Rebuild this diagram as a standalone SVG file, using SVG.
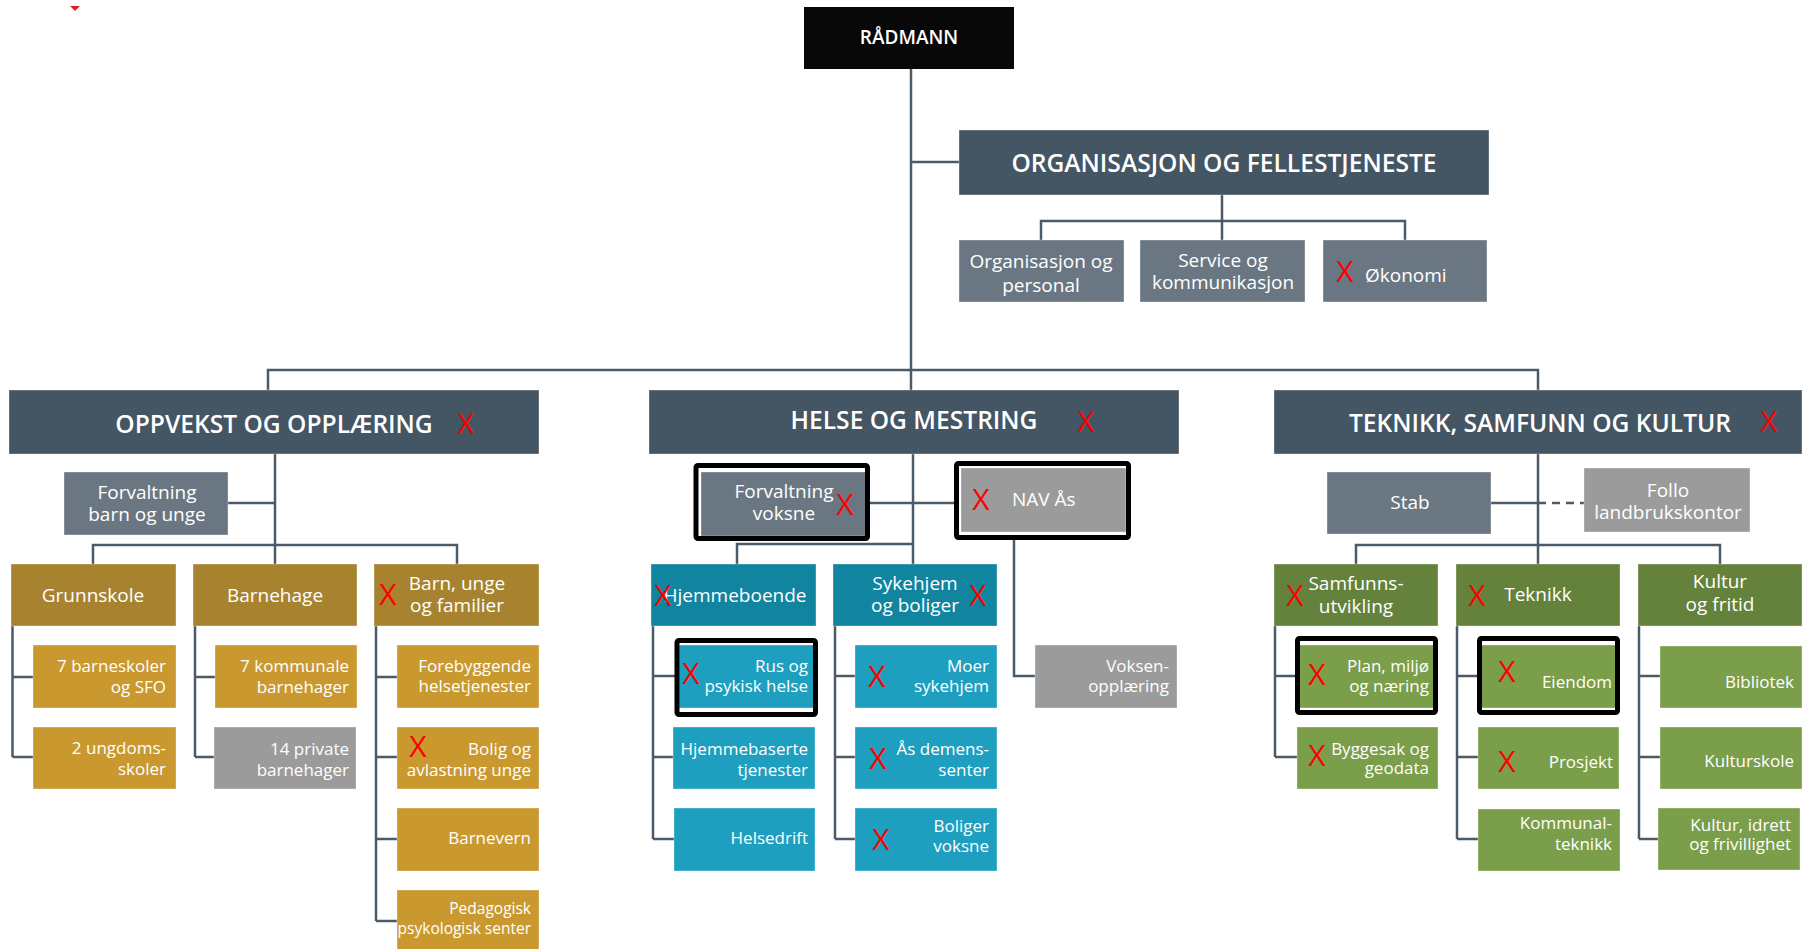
<svg xmlns="http://www.w3.org/2000/svg" width="1808" height="949" viewBox="0 0 1808 949">
<style>
text{font-family:"Open Sans","Noto Sans","DejaVu Sans",sans-serif;fill:#fff}
.bx{stroke:#fff;stroke-opacity:.35;stroke-width:1}
.hdr{fill:#445563}
.g1{fill:#6A7782}
.g2{fill:#9B9B9B}
.o2{fill:#A8832F}
.o3{fill:#C9992F}
.h2{fill:#11849F}
.h3{fill:#1E9FBF}
.t2{fill:#64823B}
.t3{fill:#7A9E4A}
.frame{fill:none;stroke:#000;stroke-width:5}
.ht{font-size:24.6px;font-weight:600;text-anchor:middle}
.m{font-size:19px;text-anchor:middle}
.r{font-size:17px;text-anchor:end}
.x{font-size:30px;fill:#f00;text-anchor:middle}
.cn{fill:none;stroke:#4B5A67;stroke-width:2.5}
</style>

<polygon points="70,6 80,6 75,11" fill="#e02020"/>

<g id="connectors" class="cn">
<path d="M911,69 V390"/>
<path d="M911,162 H959"/>
<path d="M1222,195 V240 M1041,240 V221 H1405 V240"/>
<path d="M268,390 V370 H1538 V390"/>
<path d="M275,454 V564 M228,503 H275 M93,564 V545 H457 V564"/>
<path d="M12.5,626 V757 M12.5,677 H33 M12.5,757 H33"/>
<path d="M195,626 V757 M195,677 H215 M195,757 H215"/>
<path d="M376,626 V921 M376,677 H397 M376,757 H397 M376,839 H397 M376,921 H397"/>
<path d="M913,454 V564 M870,503 H956 M737,564 V544 H913"/>
<path d="M1014,540 V676 H1035"/>
<path d="M653,626 V839 M653,676 H675 M653,757 H673 M653,839 H674"/>
<path d="M835,626 V839 M835,676 H855 M835,757 H855 M835,839 H855"/>
<path d="M1538,454 V564 M1491,503 H1538 M1356,564 V545 H1720 V564"/>
<path d="M1538,503 H1584" stroke-dasharray="8,6"/>
<path d="M1275,626 V757 M1275,676 H1297 M1275,757 H1297"/>
<path d="M1457,626 V839 M1457,676 H1478 M1457,757 H1478 M1457,839 H1478"/>
<path d="M1639,626 V839 M1639,676 H1660 M1639,757 H1660 M1639,839 H1658"/>
</g>

<g id="radmann"><rect x="804" y="7" width="210" height="62" fill="#080808"/><text x="909" y="44" style="font-size:19px;font-weight:600;text-anchor:middle">RÅDMANN</text></g>

<g id="org"><rect class="bx hdr" x="959" y="130" width="530" height="65"/><text class="ht" x="1224" y="172">ORGANISASJON OG FELLESTJENESTE</text></g>
<g id="org-personal"><rect class="bx g1" x="959" y="240" width="165" height="62"/><text class="m" x="1041" y="268">Organisasjon og</text><text class="m" x="1041" y="292">personal</text></g>
<g id="org-service"><rect class="bx g1" x="1140" y="240" width="165" height="62"/><text class="m" x="1223" y="267">Service og</text><text class="m" x="1223" y="289">kommunikasjon</text></g>
<g id="org-okonomi"><rect class="bx g1" x="1323" y="240" width="164" height="62"/><text class="x" x="1345" y="282">X</text><text style="font-size:19px" x="1365" y="282">Økonomi</text></g>

<g id="oppvekst"><rect class="bx hdr" x="9" y="390" width="530" height="64"/><text class="ht" x="274" y="433">OPPVEKST OG OPPLÆRING</text><text class="x" x="466" y="434">X</text></g>
<g id="forv-barn"><rect class="bx g1" x="64" y="472" width="164" height="63"/><text class="m" x="147" y="499">Forvaltning</text><text class="m" x="147" y="521">barn og unge</text></g>
<g id="grunnskole"><rect class="bx o2" x="11" y="564" width="165" height="62"/><text class="m" x="93" y="602">Grunnskole</text></g>
<g id="barnehage"><rect class="bx o2" x="193" y="564" width="164" height="62"/><text class="m" x="275" y="602">Barnehage</text></g>
<g id="barn-unge"><rect class="bx o2" x="374" y="564" width="165" height="62"/><text class="x" x="388" y="605">X</text><text class="m" x="457" y="590">Barn, unge</text><text class="m" x="457" y="612">og familier</text></g>
<g id="barneskoler"><rect class="bx o3" x="33" y="645" width="143" height="63"/><text class="r" x="166" y="672">7 barneskoler</text><text class="r" x="166" y="693">og SFO</text></g>
<g id="ungdomsskoler"><rect class="bx o3" x="33" y="727" width="143" height="62"/><text class="r" x="166" y="754">2 ungdoms-</text><text class="r" x="166" y="775">skoler</text></g>
<g id="komm-barnehager"><rect class="bx o3" x="215" y="645" width="142" height="63"/><text class="r" x="349" y="672">7 kommunale</text><text class="r" x="349" y="693">barnehager</text></g>
<g id="priv-barnehager"><rect class="bx g2" x="214" y="727" width="142" height="62"/><text class="r" x="349" y="755">14 private</text><text class="r" x="349" y="776">barnehager</text></g>
<g id="forebyggende"><rect class="bx o3" x="397" y="645" width="142" height="63"/><text class="r" x="531" y="672">Forebyggende</text><text class="r" x="531" y="692">helsetjenester</text></g>
<g id="bolig-avlastning"><rect class="bx o3" x="397" y="727" width="142" height="62"/><text class="x" x="418" y="757">X</text><text class="r" x="531" y="755">Bolig og</text><text class="r" x="531" y="776">avlastning unge</text></g>
<g id="barnevern"><rect class="bx o3" x="397" y="808" width="142" height="63"/><text class="r" x="531" y="844">Barnevern</text></g>
<g id="ppt"><rect class="bx o3" x="397" y="890" width="142" height="62"/><text class="r" style="font-size:15.5px" x="531" y="914">Pedagogisk</text><text class="r" style="font-size:15.5px" x="531" y="934">psykologisk senter</text></g>

<g id="helse"><rect class="bx hdr" x="649" y="390" width="530" height="64"/><text class="ht" x="914" y="429">HELSE OG MESTRING</text><text class="x" x="1086" y="432">X</text></g>
<g id="forv-voksne"><rect class="bx g1" x="701" y="472" width="165" height="64"/><rect class="frame" x="696" y="465.5" width="171.5" height="73" rx="2"/><text class="m" x="784" y="498">Forvaltning</text><text class="m" x="784" y="520">voksne</text><text class="x" x="845" y="515">X</text></g>
<g id="nav"><rect class="bx g2" x="961" y="468" width="165" height="64"/><rect class="frame" x="956.5" y="463.5" width="172" height="74" rx="2"/><text class="x" x="981" y="510">X</text><text style="font-size:19px" x="1012" y="506">NAV Ås</text></g>
<g id="hjemmeboende"><rect class="bx h2" x="651" y="564" width="165" height="62"/><text class="m" x="735" y="602">Hjemmeboende</text><text class="x" x="663" y="606">X</text></g>
<g id="sykehjem-boliger"><rect class="bx h2" x="833" y="564" width="164" height="62"/><text class="m" x="915" y="590">Sykehjem</text><text class="m" x="915" y="612">og boliger</text><text class="x" x="978" y="606">X</text></g>
<g id="rus"><rect class="bx h3" x="679" y="645" width="135" height="63"/><rect class="frame" x="677" y="640.5" width="138.5" height="74" rx="2"/><text class="x" x="691" y="684">X</text><text class="r" x="808" y="672">Rus og</text><text class="r" x="808" y="692">psykisk helse</text></g>
<g id="hjemmebaserte"><rect class="bx h3" x="673" y="727" width="142" height="62"/><text class="r" x="808" y="755">Hjemmebaserte</text><text class="r" x="808" y="776">tjenester</text></g>
<g id="helsedrift"><rect class="bx h3" x="674" y="808" width="141" height="63"/><text class="r" x="808" y="844">Helsedrift</text></g>
<g id="moer"><rect class="bx h3" x="855" y="645" width="142" height="63"/><text class="x" x="877" y="687">X</text><text class="r" x="989" y="672">Moer</text><text class="r" x="989" y="692">sykehjem</text></g>
<g id="demens"><rect class="bx h3" x="855" y="727" width="142" height="62"/><text class="x" x="878" y="769">X</text><text class="r" x="989" y="755">Ås demens-</text><text class="r" x="989" y="776">senter</text></g>
<g id="boliger-voksne"><rect class="bx h3" x="855" y="808" width="142" height="63"/><text class="x" x="881" y="850">X</text><text class="r" x="989" y="832">Boliger</text><text class="r" x="989" y="852">voksne</text></g>
<g id="voksenopplaering"><rect class="bx g2" x="1035" y="645" width="142" height="63"/><text class="r" x="1169" y="672">Voksen-</text><text class="r" x="1169" y="692">opplæring</text></g>

<g id="teknikk-samfunn"><rect class="bx hdr" x="1274" y="390" width="528" height="64"/><text class="ht" x="1540" y="432">TEKNIKK, SAMFUNN OG KULTUR</text><text class="x" x="1769" y="432">X</text></g>
<g id="stab"><rect class="bx g1" x="1327" y="472" width="164" height="62"/><text class="m" x="1410" y="509">Stab</text></g>
<g id="follo"><rect class="bx g2" x="1584" y="468" width="166" height="64"/><text class="m" x="1668" y="497">Follo</text><text class="m" x="1668" y="519">landbrukskontor</text></g>
<g id="samfunnsutvikling"><rect class="bx t2" x="1274" y="564" width="164" height="62"/><text class="x" x="1295" y="606">X</text><text class="m" x="1356" y="590">Samfunns-</text><text class="m" x="1356" y="613">utvikling</text></g>
<g id="teknikk"><rect class="bx t2" x="1456" y="564" width="164" height="62"/><text class="x" x="1477" y="606">X</text><text class="m" x="1538" y="601">Teknikk</text></g>
<g id="kultur-fritid"><rect class="bx t2" x="1638" y="564" width="164" height="62"/><text class="m" x="1720" y="588">Kultur</text><text class="m" x="1720" y="611">og fritid</text></g>
<g id="plan"><rect class="bx t3" x="1299.5" y="645" width="134.5" height="63"/><rect class="frame" x="1297.5" y="638.5" width="138" height="74" rx="2"/><text class="x" x="1317" y="685">X</text><text class="r" x="1429" y="672">Plan, miljø</text><text class="r" x="1429" y="692">og næring</text></g>
<g id="byggesak"><rect class="bx t3" x="1297" y="727" width="141" height="62"/><text class="x" x="1317" y="766">X</text><text class="r" x="1429" y="755">Byggesak og</text><text class="r" x="1429" y="774">geodata</text></g>
<g id="eiendom"><rect class="bx t3" x="1481" y="645" width="134.5" height="63"/><rect class="frame" x="1479.5" y="638.5" width="138" height="74" rx="2"/><text class="x" x="1507" y="682">X</text><text class="r" x="1612" y="688">Eiendom</text></g>
<g id="prosjekt"><rect class="bx t3" x="1478" y="727" width="141" height="62"/><text class="x" x="1507" y="772">X</text><text class="r" x="1613" y="768">Prosjekt</text></g>
<g id="kommunalteknikk"><rect class="bx t3" x="1478" y="809" width="142" height="62"/><text class="r" x="1612" y="829">Kommunal-</text><text class="r" x="1612" y="850">teknikk</text></g>
<g id="bibliotek"><rect class="bx t3" x="1660" y="646" width="142" height="62"/><text class="r" x="1794" y="688">Bibliotek</text></g>
<g id="kulturskole"><rect class="bx t3" x="1660" y="727" width="142" height="62"/><text class="r" x="1794" y="767">Kulturskole</text></g>
<g id="kultur-idrett"><rect class="bx t3" x="1658" y="808" width="142" height="62"/><text class="r" x="1791" y="831">Kultur, idrett</text><text class="r" x="1791" y="850">og frivillighet</text></g>
</svg>
